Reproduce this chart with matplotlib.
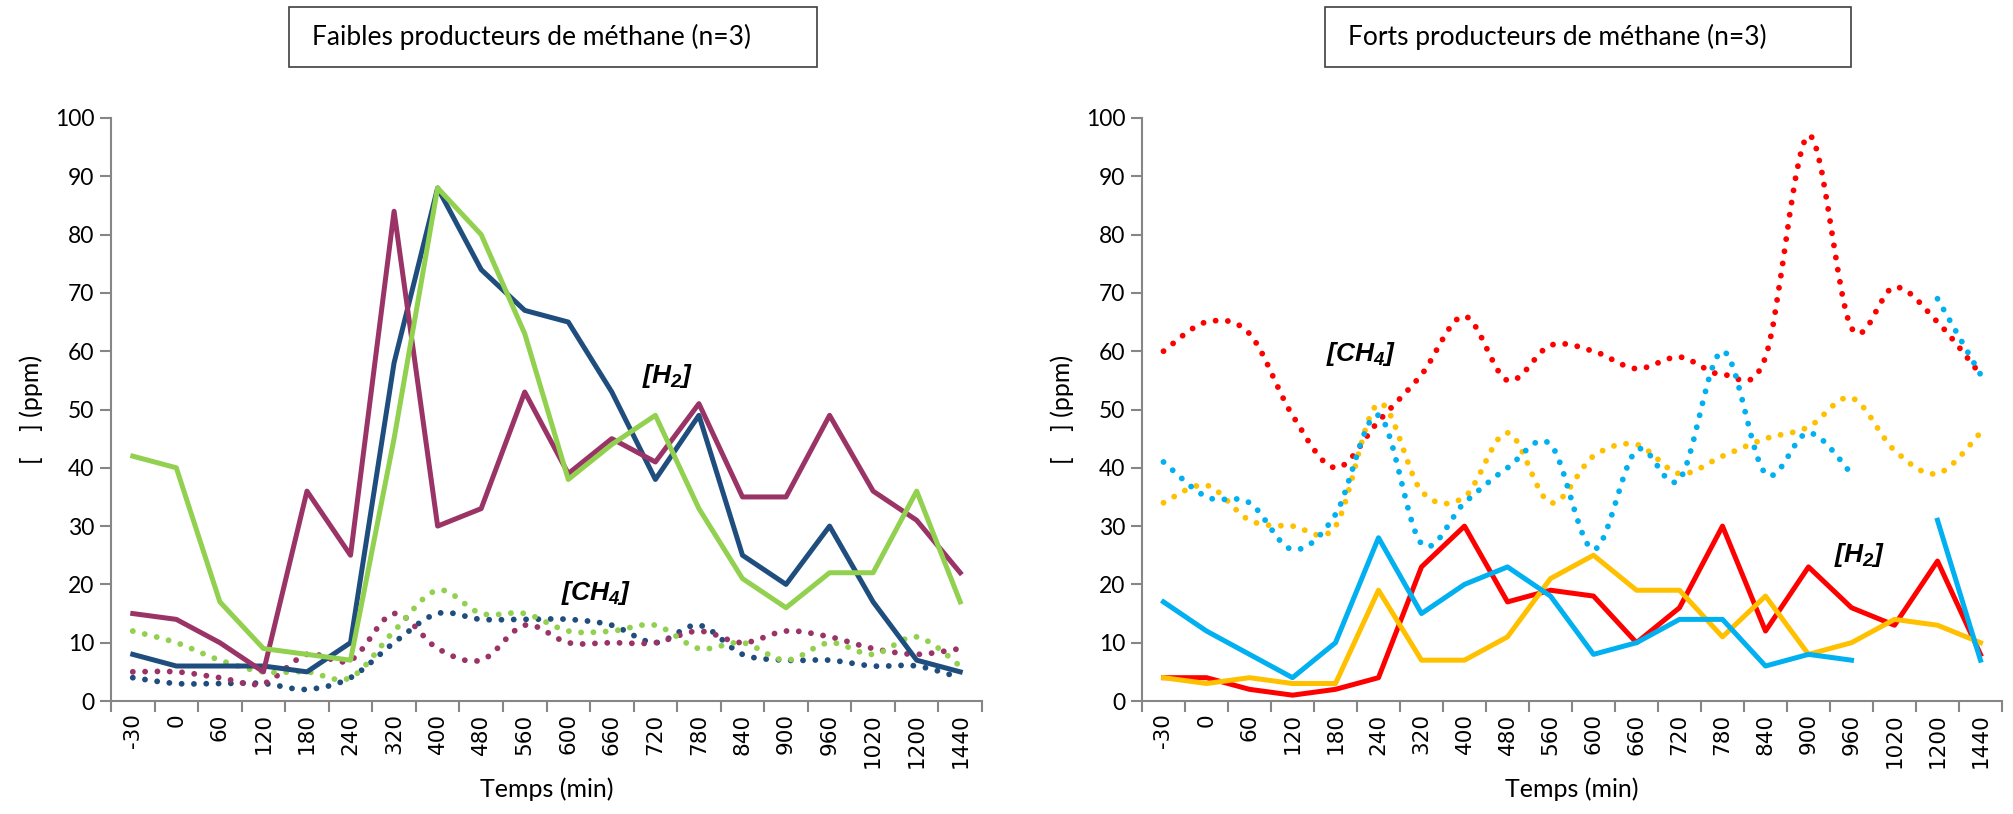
import numpy as np
import matplotlib
matplotlib.use('Agg')
import matplotlib.pyplot as plt
from matplotlib.path import Path
from matplotlib.patches import PathPatch, Rectangle

# temps de prélèvement (min)
temps = ["-30", "0", "60", "120", "180", "240", "320", "400", "480", "560",
         "600", "660", "720", "780", "840", "900", "960", "1020", "1200", "1440"]

# faibles producteurs : H2 (traits pleins) et CH4 (pointillés), ppm
h2_faible_1 = [8, 6, 6, 6, 5, 10, 58, 88, 74, 67, 65, 53, 38, 49, 25, 20, 30, 17, 7, 5]
h2_faible_2 = [15, 14, 10, 5, 36, 25, 84, 30, 33, 53, 39, 45, 41, 51, 35, 35, 49, 36, 31, 22]
h2_faible_3 = [42, 40, 17, 9, 8, 7, 45, 88, 80, 63, 38, 44, 49, 33, 21, 16, 22, 22, 36, 17]
ch4_faible_1 = [4, 3, 3, 3, 2, 4, 10, 15, 14, 14, 14, 13, 10, 13, 8, 7, 7, 6, 6, 4]
ch4_faible_2 = [5, 5, 4, 3, 8, 7, 15, 9, 7, 13, 10, 10, 10, 12, 10, 12, 11, 9, 8, 9]
ch4_faible_3 = [12, 10, 7, 5, 5, 4, 12, 19, 15, 15, 12, 12, 13, 9, 10, 7, 10, 8, 11, 6]

# forts producteurs (None = valeur manquante)
h2_fort_1 = [4, 4, 2, 1, 2, 4, 23, 30, 17, 19, 18, 10, 16, 30, 12, 23, 16, 13, 24, 8]
h2_fort_2 = [4, 3, 4, 3, 3, 19, 7, 7, 11, 21, 25, 19, 19, 11, 18, 8, 10, 14, 13, 10]
h2_fort_3 = [17, 12, 8, 4, 10, 28, 15, 20, 23, 18, 8, 10, 14, 14, 6, 8, 7, None, 31, 7]
ch4_fort_1 = [60, 65, 63, 49, 40, 48, 56, 66, 55, 61, 60, 57, 59, 56, 59, 97, 64, 71, 65, 56]
ch4_fort_2 = [34, 37, 31, 30, 30, 51, 36, 35, 46, 34, 42, 44, 39, 42, 45, 47, 52, 43, 39, 46]
ch4_fort_3 = [41, 35, 34, 26, 32, 49, 27, 34, 40, 44, 26, 43, 38, 60, 39, 46, 39, None, 69, 56]

col_faible = ["#1F4E7E", "#9B3466", "#92D050"]
col_fort = ["#FF0000", "#FFC000", "#00B0F0"]

plt.rcParams['font.family'] = ['Lato', 'DejaVu Sans']
plt.rcParams['mathtext.fontset'] = 'custom'
plt.rcParams['mathtext.it'] = 'Liberation Sans:bold:italic'
plt.rcParams['mathtext.rm'] = 'Liberation Sans:bold:italic'

GRIS = "#868686"
LW = 3.6


def segments(vals):
    # coupe la série aux valeurs manquantes
    seg = []
    for i, v in enumerate(vals):
        if v is None:
            if seg:
                yield seg
            seg = []
        else:
            seg.append((i, v))
    if seg:
        yield seg


def courbe_lissee(ax, vals, color):
    # courbe lissée façon Excel (Catmull-Rom -> Bézier)
    for seg in segments(vals):
        p = np.array(seg, dtype=float)
        n = len(p)
        verts = [p[0]]
        codes = [Path.MOVETO]
        for i in range(n - 1):
            p0 = p[max(i - 1, 0)]
            p1 = p[i]
            p2 = p[i + 1]
            p3 = p[min(i + 2, n - 1)]
            verts += [p1 + (p2 - p0) / 6, p2 - (p3 - p1) / 6, p2]
            codes += [Path.CURVE4] * 3
        patch = PathPatch(Path(verts, codes), fill=False, edgecolor=color, lw=4.2,
                          linestyle=(0, (0.01, 2.1)), capstyle='round', zorder=2)
        ax.add_patch(patch)


def trait(ax, vals, color):
    for seg in segments(vals):
        x, y = zip(*seg)
        ax.plot(x, y, color=color, lw=LW, solid_joinstyle='round', zorder=3)


def mise_en_forme(ax, W_ax):
    ax.set_xlim(-0.5, len(temps) - 0.5)
    ax.set_ylim(0, 100)
    for s in ['top', 'right']:
        ax.spines[s].set_visible(False)
    for s in ['left', 'bottom']:
        ax.spines[s].set_color(GRIS)
        ax.spines[s].set_linewidth(1.5)
    ax.set_yticks(range(0, 101, 10))
    ax.tick_params(axis='y', length=8, width=1.5, color=GRIS, labelsize=16.5, pad=4)
    ax.set_xticks(range(len(temps)))
    ax.set_xticklabels(temps, rotation=90, family='DejaVu Sans', fontsize=15.5)
    ax.tick_params(axis='x', which='major', length=0, pad=9)
    ax.set_xticks(np.arange(-0.5, len(temps), 1), minor=True)
    ax.tick_params(axis='x', which='minor', length=8, width=1.5, color=GRIS)
    ax.set_xlabel("Temps (min)", fontsize=18)
    ax.xaxis.set_label_coords(0.5, -88 / 583)
    ax.xaxis.label.set_va('center')
    ax.set_ylabel("[    ] (ppm)", fontsize=18)
    ax.yaxis.set_label_coords(-80 / W_ax, 0.5)
    ax.yaxis.label.set_va('center')


fig = plt.figure(figsize=(20.13, 8.14), dpi=100)
W, H = 2013, 814

ax1 = fig.add_axes([111 / W, (H - 701) / H, 871 / W, 583 / H])
ax2 = fig.add_axes([1142 / W, (H - 701) / H, 860 / W, 583 / H])

for vals, c in zip([ch4_faible_1, ch4_faible_2, ch4_faible_3], col_faible):
    courbe_lissee(ax1, vals, c)
for vals, c in zip([h2_faible_1, h2_faible_2, h2_faible_3], col_faible):
    trait(ax1, vals, c)

for vals, c in zip([ch4_fort_1, ch4_fort_2, ch4_fort_3], col_fort):
    courbe_lissee(ax2, vals, c)
for vals, c in zip([h2_fort_1, h2_fort_2, h2_fort_3], col_fort):
    trait(ax2, vals, c)

mise_en_forme(ax1, 871)
mise_en_forme(ax2, 860)

ax1.text(11.7, 55.8, r"$[H_2]$", fontsize=19, va='center', ha='left')
ax1.text(9.84, 18.5, r"$[CH_4]$", fontsize=19, va='center', ha='left')
ax2.text(3.78, 59.6, r"$[CH_4]$", fontsize=19, va='center', ha='left')
ax2.text(15.6, 25, r"$[H_2]$", fontsize=19, va='center', ha='left')

# encadrés de titre
titres = [("Faibles producteurs de méthane (n=3)", 289, 817),
          ("Forts producteurs de méthane (n=3)", 1325, 1851)]
for txt, x0, x1 in titres:
    fig.patches.append(Rectangle((x0 / W, (H - 67) / H), (x1 - x0) / W, 60 / H,
                                 transform=fig.transFigure, fill=False,
                                 edgecolor="#404040", lw=1.2))
    fig.text((x0 + 23) / W, (H - 37) / H, txt, fontsize=19, va='center', ha='left')

fig.savefig("out.png", dpi=100, facecolor='white')
